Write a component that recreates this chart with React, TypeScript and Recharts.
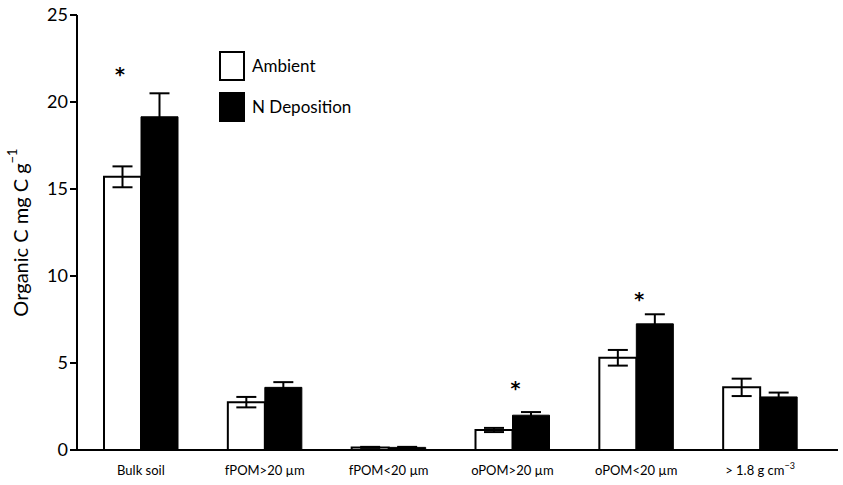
import React from "react";
import { Bar, ComposedChart, ErrorBar, Scatter, XAxis, YAxis } from "recharts";

const fractions = ["Bulk soil", "fPOM>20 µm", "fPOM<20 µm", "oPOM>20 µm", "oPOM<20 µm", "> 1.8 g cm^−3"];
const ambient = [15.7, 2.75, 0.15, 1.15, 5.3, 3.6];
const ambientErr = [0.6, 0.3, 0.03, 0.12, 0.45, 0.5];
const nDeposition = [19.15, 3.6, 0.15, 2.0, 7.25, 3.05];
const nDepositionErr = [1.35, 0.3, 0.03, 0.18, 0.55, 0.25];
// height of significance asterisk, null = not significant
const significance = [21.7, null, null, 3.7, 8.8, null];
const yTicks = [0, 5, 10, 15, 20, 25];

const data = fractions.map((name, i) => ({
  name,
  ambient: ambient[i],
  ambientErr: ambientErr[i],
  nDeposition: nDeposition[i],
  nDepositionErr: nDepositionErr[i],
  sig: significance[i],
  sigOnAmbient: i === 0
}));

const font = "Lato, 'Open Sans', sans-serif";

function FractionTick({ x, y, payload }: any) {
  const [main, sup] = String(payload.value).split("^");
  return (
    <text x={x} y={y + 17} textAnchor="middle" fontFamily={font} fontSize={13} fill="#000">
      {main}
      {sup ? (
        <tspan fontSize={9} dy={-6}>
          {sup}
        </tspan>
      ) : null}
    </text>
  );
}

function Asterisk({ cx, cy, payload }: any) {
  if (payload.sig == null) return null;
  const shift = payload.sigOnAmbient ? -21 : 3;
  return (
    <text
      x={cx + shift}
      y={cy + 9}
      textAnchor="middle"
      fontFamily="'DejaVu Sans', sans-serif"
      fontSize={19}
      fontWeight={700}
      fill="#000"
    >
      *
    </text>
  );
}

function YTitle({ viewBox }: any) {
  const cx = 20;
  const cy = viewBox.y + viewBox.height / 2;
  return (
    <text
      x={cx}
      y={cy}
      transform={`rotate(-90 ${cx} ${cy})`}
      textAnchor="middle"
      dominantBaseline="central"
      fontFamily={font}
      fontSize={20}
      fill="#000"
    >
      Organic C mg C g
      <tspan fontSize={13} dy={-8}>
        −1
      </tspan>
    </text>
  );
}

const keyItems = [
  { label: "Ambient", fill: "#fff" },
  { label: "N Deposition", fill: "#000" }
];

function KeyBox() {
  return (
    <div style={{ position: "absolute", left: 219, top: 45, fontFamily: font, fontSize: 17 }}>
      {keyItems.map((it) => (
        <div key={it.label} style={{ display: "flex", alignItems: "center", height: 41 }}>
          <div
            style={{
              width: 26,
              height: 30,
              background: it.fill,
              border: "2px solid #000",
              boxSizing: "border-box",
              marginRight: 7
            }}
          />
          <span>{it.label}</span>
        </div>
      ))}
    </div>
  );
}

export default function App() {
  return (
    <div style={{ position: "absolute", left: 0, top: 0, width: 843, height: 485, background: "#fff" }}>
      <ComposedChart
        width={843}
        height={485}
        data={data}
        margin={{ top: 15, right: 5, bottom: 0, left: 0 }}
        barGap={0}
        barSize={37}
      >
        <XAxis
          dataKey="name"
          height={35}
          tickLine={false}
          axisLine={{ stroke: "#000", strokeWidth: 2 }}
          padding={{ left: 2, right: 16 }}
          tick={<FractionTick />}
          interval={0}
        />
        <YAxis
          width={77}
          domain={[0, 25]}
          ticks={yTicks}
          tickSize={7}
          axisLine={{ stroke: "#000", strokeWidth: 2 }}
          tickLine={{ stroke: "#000", strokeWidth: 2 }}
          tick={{ fill: "#000", fontSize: 18, fontFamily: font }}
          label={<YTitle />}
        />
        <Bar dataKey="ambient" name="Ambient" fill="#fff" stroke="#000" strokeWidth={2} isAnimationActive={false}>
          <ErrorBar dataKey="ambientErr" width={10} stroke="#000" strokeWidth={2} direction="y" />
        </Bar>
        <Bar dataKey="nDeposition" name="N Deposition" fill="#000" stroke="#000" strokeWidth={1} isAnimationActive={false}>
          <ErrorBar dataKey="nDepositionErr" width={10} stroke="#000" strokeWidth={2} direction="y" />
        </Bar>
        <Scatter dataKey="sig" shape={<Asterisk />} legendType="none" isAnimationActive={false} />
      </ComposedChart>
      <KeyBox />
    </div>
  );
}
